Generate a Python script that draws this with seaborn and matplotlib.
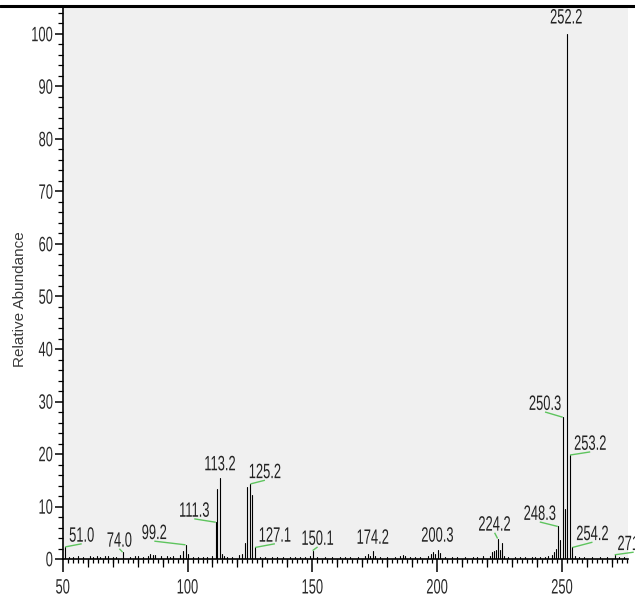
import numpy as np
import pandas as pd
import matplotlib
matplotlib.use("Agg")
import matplotlib.pyplot as plt
from matplotlib.ticker import MultipleLocator, FixedLocator, NullFormatter
from matplotlib.lines import Line2D
from matplotlib.patheffects import AbstractPathEffect
from matplotlib.transforms import Affine2D
import seaborn as sns

# ---- spectrum data -------------------------------------------------------
# labelled ions (m/z, relative abundance %)
peak_mz = [51.0, 74.0, 99.2, 111.3, 113.2, 125.2, 127.1, 150.1, 174.2,
           200.3, 224.2, 248.3, 250.3, 252.2, 253.2, 254.2, 271.1]
peak_ab = [2.3, 1.3, 2.7, 7.0, 15.5, 14.3, 2.2, 1.6, 1.5,
           1.8, 3.9, 6.2, 27.0, 100.0, 19.8, 2.2, 0.8]
peak_text = ["51.0", "74.0", "99.2", "111.3", "113.2", "125.2", "127.1",
             "150.1", "174.2", "200.3", "224.2", "248.3", "250.3", "252.2",
             "253.2", "254.2", "271.1"]

# unlabelled ions in the clusters
cluster_mz = [98.3, 100.0, 112.0, 114.0, 114.6, 120.7, 121.7, 123.0, 124.0,
              126.0, 196.4, 197.5, 198.2, 199.0, 201.1, 221.2, 222.1, 222.8,
              223.4, 225.0, 226.0, 226.8, 246.1, 246.8, 247.6, 249.0, 251.3,
              255.2]
cluster_ab = [1.5, 1.0, 13.3, 1.0, 0.5, 0.7, 0.9, 3.0, 13.8,
              12.2, 0.5, 0.9, 1.4, 1.0, 1.2, 0.6, 1.4, 1.5,
              1.8, 1.7, 3.1, 0.6, 0.8, 1.4, 2.0, 3.6, 9.5,
              0.5]

# low-level background ions
noise_mz = [52.5, 54.0, 56.3, 58.0, 60.9, 62.0, 63.6, 65.0, 67.0, 68.3, 70.0,
            71.5, 77.0, 79.0, 80.3, 82.0, 84.0, 85.0, 86.0, 87.0, 89.4, 91.7,
            93.0, 94.3, 97.0, 102.0, 104.0, 106.3, 108.0, 110.0, 116.0, 118.0,
            129.0, 131.0, 134.0, 136.0, 138.4, 141.0, 143.0, 145.0, 147.0,
            149.0, 152.0, 155.0, 158.0, 161.0, 163.0, 165.0, 168.4, 171.1,
            172.4, 173.1, 175.1, 177.0, 180.0, 183.1, 185.1, 186.2, 187.1,
            189.0, 191.0, 193.0, 203.1, 205.8, 208.0, 211.0, 214.5, 216.0,
            218.5, 228.5, 231.0, 233.0, 235.0, 237.9, 239.0, 241.2, 243.0,
            244.5, 257.0, 259.0, 261.9, 265.2, 268.0, 273.0, 275.0]
noise_ab = [0.4, 0.3, 0.5, 0.3, 0.6, 0.4, 0.6, 0.4, 0.5, 0.5, 0.3,
            0.4, 0.4, 0.5, 0.6, 0.4, 0.5, 0.9, 0.8, 0.7, 0.6, 0.5,
            0.4, 0.5, 0.7, 0.4, 0.3, 0.4, 0.4, 0.5, 0.3, 0.4,
            0.4, 0.3, 0.3, 0.3, 0.4, 0.3, 0.4, 0.4, 0.3,
            0.5, 0.3, 0.3, 0.4, 0.3, 0.4, 0.3, 0.4, 0.6,
            0.9, 0.6, 0.6, 0.3, 0.3, 0.4, 0.6, 0.7, 0.5,
            0.3, 0.3, 0.4, 0.4, 0.4, 0.3, 0.3, 0.4, 0.3,
            0.5, 0.4, 0.3, 0.3, 0.4, 0.4, 0.3, 0.4, 0.3,
            0.5, 0.3, 0.3, 0.3, 0.4, 0.3, 0.3, 0.3]

# where each peak label sits (centre x, baseline y, in data units)
label_x = [57.6, 72.7, 86.7, 102.7, 113.0, 131.0, 135.0, 152.1, 174.2,
           200.1, 223.0, 241.1, 243.2, 251.7, 261.3, 262.2, 278.7]
label_y = [3.3, 2.35, 3.8, 8.05, 16.9, 15.4, 3.3, 2.7, 2.9,
           3.3, 5.4, 7.45, 28.4, 102.0, 20.8, 3.6, 1.7]


class Tall(AbstractPathEffect):
    """Draw text glyphs stretched vertically (tall, condensed lettering)."""

    def __init__(self, sy=1.6, anchor="baseline"):
        super().__init__()
        self.sy = sy
        self.anchor = anchor

    def draw_path(self, renderer, gc, tpath, affine, rgbFace=None):
        ext = tpath.get_extents()
        cy = {"baseline": 0.0, "top": ext.y1,
              "center": 0.5 * (ext.y0 + ext.y1)}[self.anchor]
        stretch = Affine2D().translate(0, -cy).scale(1, self.sy).translate(0, cy)
        renderer.draw_path(gc, tpath, stretch + affine, rgbFace)


# ---- long-form table: one stick per ion ----------------------------------
all_mz = peak_mz + cluster_mz + noise_mz
all_ab = peak_ab + cluster_ab + noise_ab
rows = []
for i, (m, a) in enumerate(zip(all_mz, all_ab)):
    rows.append({"mz": m, "ab": 0.0, "ion": i})
    rows.append({"mz": m, "ab": a, "ion": i})
sticks = pd.DataFrame(rows)

# ---- figure ---------------------------------------------------------------
sns.set_theme(style="ticks")
plt.rcParams["font.family"] = ["Liberation Sans", "DejaVu Sans"]

W, H = 635, 604
fig = plt.figure(figsize=(W / 100, H / 100), dpi=100)
left_px, right_px, top_px, bot_px = 62.7, 628.0, 8.0, 559.0
ax = fig.add_axes([left_px / W, 1 - bot_px / H,
                   (right_px - left_px) / W, (bot_px - top_px) / H])
ax.set_facecolor("#f0f0f0")

sns.lineplot(data=sticks, x="mz", y="ab", units="ion", estimator=None,
             sort=False, color="black", linewidth=0.8, legend=False, ax=ax)

ax.set_xlim(50, 50 + (right_px - left_px) / 2.4965)
ax.set_ylim(0, (bot_px - top_px) / 5.25)

FS = 9.3      # glyph width size
SY = 1.61     # vertical stretch of the glyphs

# peak labels with green leader lines
for m, a, t, lx, ly in zip(peak_mz, peak_ab, peak_text, label_x, label_y):
    ax.text(lx, ly, t, clip_on=False, fontsize=FS, color="#222222",
            ha="center", va="baseline", path_effects=[Tall(SY, "baseline")])
    if abs(lx - m) > 0.6:
        ax.plot([m, lx], [a, ly - 0.4], color="#5ec45e", lw=1.0,
                clip_on=False, solid_capstyle="butt")

# axes frame
for side in ("top", "right"):
    ax.spines[side].set_visible(False)
for side in ("left", "bottom"):
    ax.spines[side].set_color("black")
    ax.spines[side].set_linewidth(1.2)

ax.set_xticks([50, 100, 150, 200, 250])
ax.xaxis.set_minor_locator(MultipleLocator(2))
ax.set_yticks(np.arange(0, 101, 10))
ax.yaxis.set_minor_locator(MultipleLocator(2))
ax.tick_params(axis="x", which="major", length=9.4, width=1.1, pad=5.0,
               labelsize=FS, colors="black", labelcolor="#2a2a2a")
ax.tick_params(axis="x", which="minor", length=2.9, width=0.9, colors="black")
ax.tick_params(axis="y", which="major", length=5.8, width=1.1, pad=1.2,
               labelsize=FS, colors="black", labelcolor="#2a2a2a")
ax.tick_params(axis="y", which="minor", length=3.6, width=0.9, colors="black")

# intermediate x ticks every 10 units
sec = ax.secondary_xaxis("bottom")
sec.xaxis.set_major_locator(FixedLocator([v for v in range(60, 280, 10) if v % 50]))
sec.xaxis.set_major_formatter(NullFormatter())
sec.tick_params(axis="x", which="major", length=5.8, width=0.9, colors="black")
sec.xaxis.set_minor_locator(FixedLocator([]))
sec.spines["bottom"].set_visible(False)

ax.set_xlabel("")
ax.set_ylabel("")
for lbl in ax.get_xticklabels():
    lbl.set_path_effects([Tall(SY, "top")])
for lbl in ax.get_yticklabels():
    lbl.set_path_effects([Tall(SY, "center")])

fig.text(20 / W, 1 - 299 / H, "Relative Abundance", rotation=90,
         ha="center", va="center", fontsize=11, color="#3a3a3a")

# rule across the top of the page
fig.add_artist(Line2D([0, 1], [1 - 5.5 / H, 1 - 5.5 / H],
                      transform=fig.transFigure, color="black", lw=2.2))

fig.savefig("out.png", dpi=100)
